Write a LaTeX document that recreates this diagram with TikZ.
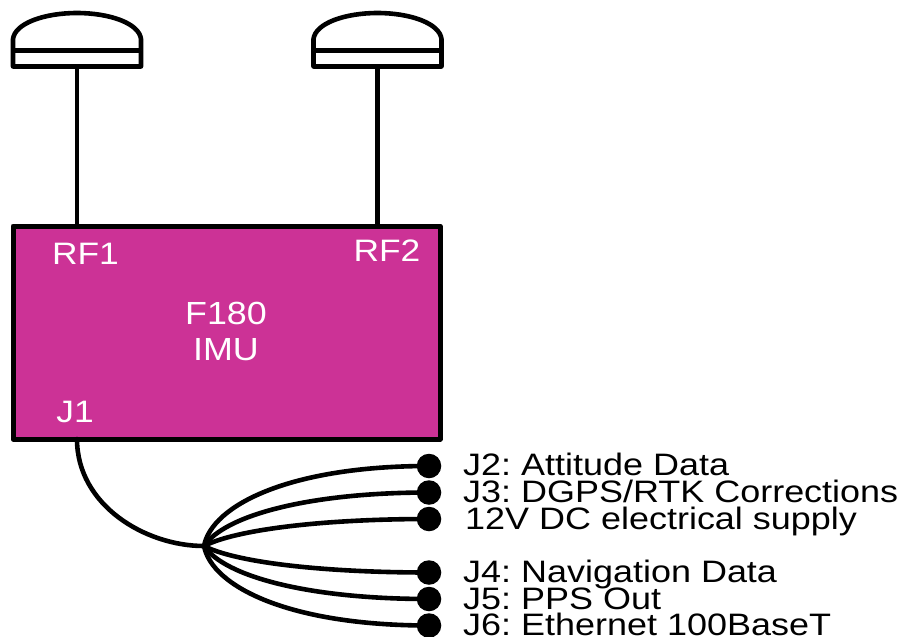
\documentclass[tikz,border=0pt]{standalone}
\usepackage{fontspec}
\setmainfont{Liberation Sans}
\frenchspacing
\definecolor{imu}{HTML}{CC3296}
\tikzset{
  wire/.style={line width=4.6pt, line cap=round},
  ant/.style={line width=4.6pt, line join=round, fill=white},
  lbl/.style={inner sep=0pt, anchor=base west, xscale=1.16, font=\fontsize{31}{31}\selectfont},
  wlbl/.style={inner sep=0pt, anchor=base, text=white, xscale=1.14, font=\fontsize{31}{31}\selectfont},
  blbl/.style={inner sep=0pt, anchor=base, text=white, xscale=1.12, font=\fontsize{32}{32}\selectfont},
  pin/.style={circle, fill=black, draw=none, minimum width=24.5pt, minimum height=20.5pt, inner sep=0pt},
  box/.style={draw=black, fill=imu, line width=5pt, line join=round, inner sep=0pt, minimum width=427pt, minimum height=213pt, anchor=north west}
}
\begin{document}
\begin{tikzpicture}[x=1pt,y=-1pt]
\useasboundingbox (0,0) rectangle (902,637);
\node[box] (imu) at (10.5,223.5) {};
% antennas
\foreach \n/\x in {a/77,b/377.5}{
  \draw[ant] (\x-64,66.5) -- (\x-64,39) .. controls (\x-62,23) and (\x-32,13) .. (\x,13)
     .. controls (\x+32,13) and (\x+62,23) .. (\x+64,39) -- (\x+64,66.5) -- cycle;
  \draw[ant] (\x-64,50.5) -- (\x+64,50.5);
  \coordinate (\n) at (\x,66.5);
}
\coordinate (pa) at (77,226);
\coordinate (pb) at (377.5,226);
\draw[wire] (a) -- (pa);
\draw[wire] (b) -- (pb);
\node[wlbl] (rf1) at (85.5,264.5) {RF1};
\node[wlbl] (rf2) at (387,261.5) {RF2};
\node[blbl] (f180) at (226,324.5) {F180};
\node[blbl] (imulbl) at (226,360.5) {IMU};
\node[wlbl] (j1) at (75,422) {J1};
% harness
\coordinate (j1p) at (77,439);
\coordinate (hub) at (204,546);
\draw[wire] (j1p) .. controls (77,505) and (145,546) .. (hub);
\node[pin] (p2) at (429,466) {};
\node[pin] (p3) at (429,492.5) {};
\node[pin] (p12) at (429,519) {};
\node[pin] (p4) at (429,572.5) {};
\node[pin] (p5) at (429,599) {};
\node[pin] (p6) at (429,625.5) {};
\draw[wire] (hub) .. controls (212,505) and (290,466) .. (p2.center);
\draw[wire] (hub) .. controls (225,515) and (310,492.5) .. (p3.center);
\draw[wire] (hub) .. controls (235,530) and (320,519) .. (p12.center);
\draw[wire] (hub) .. controls (235,562) and (320,572.5) .. (p4.center);
\draw[wire] (hub) .. controls (225,577) and (310,599) .. (p5.center);
\draw[wire] (hub) .. controls (212,587) and (290,625.5) .. (p6.center);
\node[lbl] (t2) at (463,475) {J2: Attitude Data};
\node[lbl] (t3) at (463,502) {J3: DGPS/RTK Corrections};
\node[lbl] (t12) at (465,529) {12V DC electrical supply};
\node[lbl] (t4) at (463,582) {J4: Navigation Data};
\node[lbl] (t5) at (463,609) {J5: PPS Out};
\node[lbl] (t6) at (463,635) {J6: Ethernet 100BaseT};
\end{tikzpicture}
\end{document}
